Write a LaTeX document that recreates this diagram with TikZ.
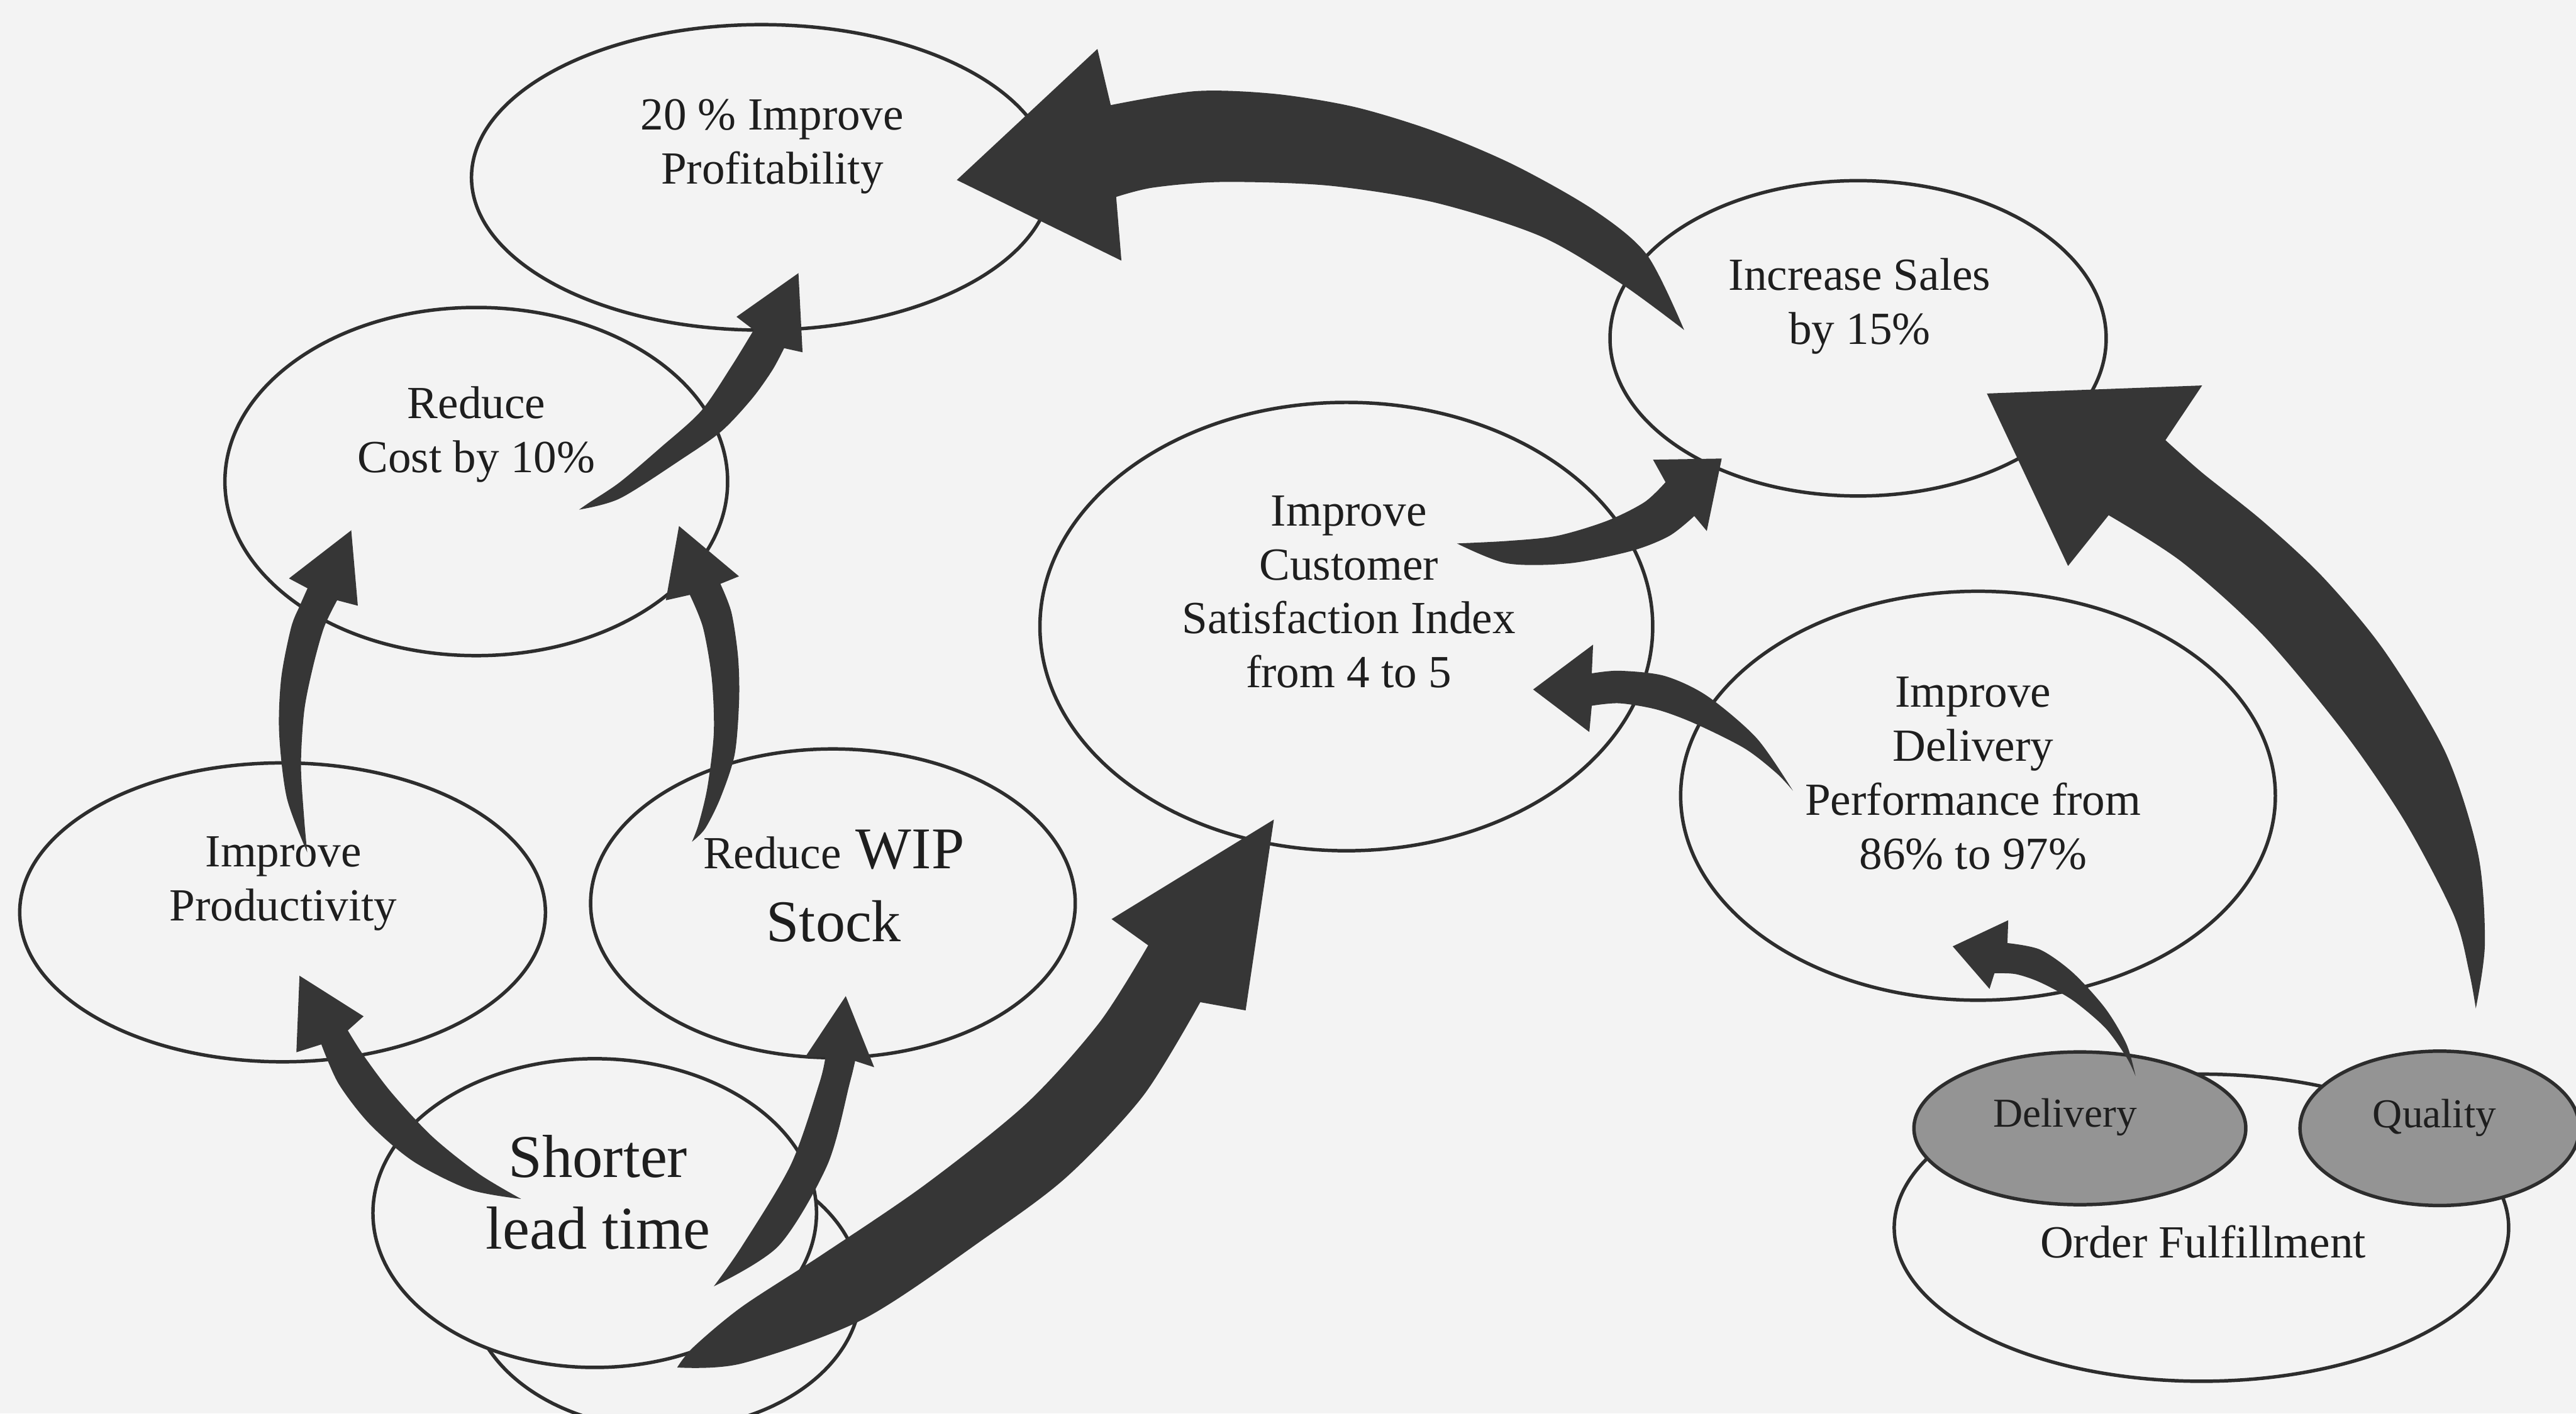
\documentclass[tikz,border=0pt]{standalone}
\usepackage{fontspec}
\setmainfont{Liberation Serif}
\usetikzlibrary{shapes.geometric}
\definecolor{paper}{RGB}{243,243,243}
\definecolor{ink}{RGB}{45,45,45}
\definecolor{arrowink}{RGB}{54,54,54}
\definecolor{shade}{RGB}{148,148,148}
\definecolor{txt}{RGB}{30,30,30}
\begin{document}
\begin{tikzpicture}[x=1pt,y=-1pt,
  goal/.style={ellipse, draw=ink, line width=2.1pt, fill=paper, inner sep=0pt},
  keygoal/.style={goal, fill=shade},
  lbl/.style={inner sep=0pt, anchor=north, align=center, text=txt,
              font=\fontsize{28}{32.8}\selectfont},
  biglbl/.style={lbl, font=\fontsize{37}{43.7}\selectfont},
  wiplbl/.style={lbl, font=\fontsize{36}{44.5}\selectfont},
  keylbl/.style={lbl, font=\fontsize{25}{30}\selectfont},
  flow/.style={fill=arrowink}]

% canvas
\useasboundingbox (0,0) rectangle (1568,860.7);
\fill[paper] (0,0) rectangle (1568,860.7);

% goal ellipses
\node[goal, minimum width=353pt, minimum height=186pt] (profit) at (463.5,108) {};
\node[goal, minimum width=302pt, minimum height=192pt] (sales) at (1131,206) {};
\node[goal, minimum width=306pt, minimum height=212pt] (cost) at (289.9,293.2) {};
\node[goal, minimum width=373pt, minimum height=273pt] (cust) at (819.5,381.5) {};
\node[goal, minimum width=362pt, minimum height=249pt] (delperf) at (1204,484.5) {};
\node[goal, minimum width=320pt, minimum height=182pt] (prod) at (172,555.5) {};
\node[goal, minimum width=295pt, minimum height=188pt] (wip) at (507,550) {};
\node[goal, minimum width=238pt, minimum height=170pt] (leadback) at (405,785) {};
\node[goal, minimum width=270pt, minimum height=188pt] (lead) at (362,738.6) {};
\node[goal, minimum width=374pt, minimum height=187pt] (order) at (1340,747.5) {};
\node[keygoal, minimum width=202pt, minimum height=93pt] (deliv) at (1266,687) {};
\node[keygoal, minimum width=170pt, minimum height=94pt] (qual) at (1485,687) {};

% labels
\node[lbl] (profit-t) at (470,56) {\strut 20 \% Improve\\Profitability\strut};
\node[lbl] (sales-t) at (1132,153.5) {\strut Increase Sales\\by 15\%\strut};
\node[lbl] (cost-t) at (290,231.6) {\strut Reduce\\Cost by 10\%\strut};
\node[lbl] (cust-t) at (821,297) {\strut Improve\\Customer\\Satisfaction Index\\from 4 to 5\strut};
\node[lbl] (delperf-t) at (1201,407.5) {\strut Improve\\Delivery\\Performance from\\86\% to 97\%\strut};
\node[lbl] (prod-t) at (172.5,504.5) {\strut Improve\\Productivity\strut};
\node[wiplbl] (wip-t) at (507.5,497.5) {\strut{\fontsize{28}{32.8}\selectfont Reduce} WIP\\Stock\strut};
\node[biglbl] (lead-t) at (364,686.1) {\strut Shorter\\lead time\strut};
\node[lbl] (order-t) at (1341,742.5) {\strut Order Fulfillment\strut};
\node[keylbl] (deliv-t) at (1257,664.8) {\strut Delivery\strut};
\node[keylbl] (qual-t) at (1481.8,665.5) {\strut Quality\strut};

% tapered arrows
% sales -> profitability
\fill[flow] plot[smooth] coordinates {(1025.1,200.9) (1002.5,155.2) (970.2,127.9) (921.7,100.5) (873.3,80.0) (824.8,65.2) (776.3,57.2) (727.8,55.5) (676.1,64.0)}
  -- (668.0,29.8) -- (582.4,109.6) -- (682.6,158.7) -- (679.4,119.9)
  -- plot[smooth] coordinates {(679.4,119.9) (702.0,114.2) (744.0,110.8) (808.6,113.0) (873.3,123.3) (937.9,143.9) (986.3,172.4) (1025.1,200.9)} -- cycle;
% cost -> profitability
\fill[flow] plot[smooth] coordinates {(352.5,310.3) (377.3,303.5) (414.3,280) (439,262.7) (457.6,242.9) (470,225.6) (477.3,212)}
  -- (488.5,214.5) -- (486,166.3) -- (448.3,192.9) -- (458.8,200.9)
  -- plot[smooth] coordinates {(458.8,200.9) (445.2,223.1) (426.7,250.3) (402,272.6) (377.3,293.6) (358.7,306) (352.5,310.3)} -- cycle;
% productivity -> cost
\fill[flow] plot[smooth] coordinates {(187,519) (174.6,485.9) (169.9,446) (171.2,412.7) (177.2,382.1) (182.5,368.8) (187.2,358.2)}
  -- (175.9,352.2) -- (213.8,322.9) -- (217.8,368.8) -- (205.2,365.5)
  -- plot[smooth] coordinates {(205.2,365.5) (197.2,382.1) (190.5,406.1) (185.2,432.7) (183.2,465.9) (185.2,499.2) (187,519)} -- cycle;
% WIP -> cost
\fill[flow] plot[smooth] coordinates {(421.2,512.5) (425.2,501.9) (430.6,479.3) (434.5,446) (433.2,412.7) (427.9,382.1) (419.9,362.2)}
  -- (405.3,365.5) -- (413.3,320.3) -- (449.8,350.9) -- (438.5,355.5)
  -- plot[smooth] coordinates {(438.5,355.5) (445.2,372.8) (449.2,399.4) (449.9,426) (447.2,459.3) (438.5,485.9) (429.2,504.5) (421.2,512.5)} -- cycle;
% customer satisfaction -> sales
\fill[flow] plot[smooth] coordinates {(886.8,330.9) (917.2,343.0) (955.2,343.0) (993.2,335.4) (1016.1,326.3) (1031.3,314.2)}
  -- (1038.9,323.3) -- (1048,279.2) -- (1006.2,279.9) -- (1013.8,293.6)
  -- plot[smooth] coordinates {(1013.8,293.6) (1000.9,305.8) (978,317.2) (947.6,326.3) (917.2,329.4) (886.8,330.9)} -- cycle;
% delivery performance -> customer satisfaction
\fill[flow] plot[smooth] coordinates {(1091.3,481.4) (1069.3,449.5) (1038.9,423.6) (1013,411.5) (985.6,408.4) (968.9,410)}
  -- (969.7,392.5) -- (933.2,419.8) -- (967.4,445.7) -- (968.9,429.7)
  -- plot[smooth] coordinates {(968.9,429.7) (985.6,428.2) (1008.4,432) (1031.3,440.4) (1061.8,455.6) (1081.4,470.8) (1091.3,481.4)} -- cycle;
% quality -> sales
\fill[flow] plot[smooth] coordinates {(1507,614) (1512.5,575) (1508.4,520) (1488.6,458.3) (1451.5,396.5) (1414.5,352) (1377.4,317.4) (1340.4,287.8) (1318.1,268)}
  -- (1340.4,234.7) -- (1209.4,239.6) -- (1258.8,344.6) -- (1283.5,313.7)
  -- plot[smooth] coordinates {(1283.5,313.7) (1328,342.1) (1377.4,386.6) (1426.8,445.9) (1463.9,500.3) (1493.6,557.1) (1503,592) (1507,614)} -- cycle;
% delivery -> delivery performance
\fill[flow] plot[smooth] coordinates {(1299.9,655.2) (1294.4,635.8) (1281.5,614) (1261.6,592.1) (1241.8,578.2) (1221.9,574.2)}
  -- (1222.4,560.3) -- (1188.6,576.2) -- (1211,602.1) -- (1214,592.6)
  -- plot[smooth] coordinates {(1214,592.6) (1226.9,593.1) (1241.8,598.1) (1261.6,609) (1281.5,625.9) (1294.4,643.8) (1299.9,655.2)} -- cycle;
% shorter lead time -> customer satisfaction
\fill[flow] plot[smooth] coordinates {(412.2,832.6) (451.8,830.1) (525.9,803) (600,753.5) (649.4,716.5) (696,667) (730.6,610.2)}
  -- (758.2,615.2) -- (775.4,499) -- (676.6,559.6) -- (698.9,575.6)
  -- plot[smooth] coordinates {(698.9,575.6) (669.2,622.6) (624.7,672) (563,721.4) (501.2,763.4) (451.8,795.5) (422.1,820.2) (412.2,832.6)} -- cycle;
% shorter lead time -> WIP
\fill[flow] plot[smooth] coordinates {(434.5,783.2) (474.0,758.5) (503.7,709.1) (517.2,659.6) (520.5,646.0)}
  -- (532.1,649.8) -- (514.8,606.5) -- (490.1,643.6) -- (502.4,643.6)
  -- plot[smooth] coordinates {(502.4,643.6) (498.7,659.6) (481.4,709.1) (451.8,758.5) (434.5,783.2)} -- cycle;
% shorter lead time -> productivity
\fill[flow] plot[smooth] coordinates {(317.2,730.0) (291.6,714.8) (263.1,692.0) (238.4,665.4) (221.3,642.6) (211.7,627.4)}
  -- (221.3,618.8) -- (182.3,594.1) -- (180.4,640.7) -- (195.6,635.9)
  -- plot[smooth] coordinates {(195.6,635.9) (206,659.7) (225,684.4) (251.7,707.2) (285.9,724.3) (317.2,730.0)} -- cycle;
\end{tikzpicture}
\end{document}
